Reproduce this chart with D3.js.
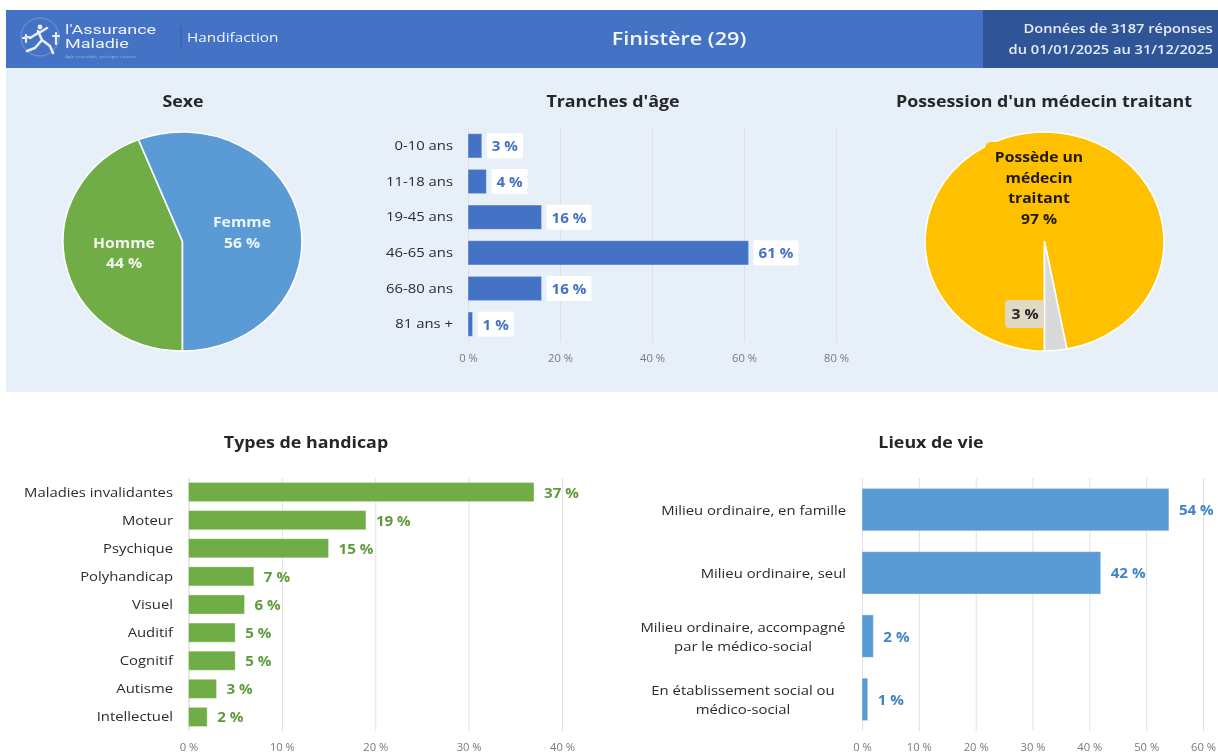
<!DOCTYPE html>
<html><head><meta charset="utf-8">
<style>
html,body{margin:0;padding:0;background:#fff}
svg{display:block;filter:blur(0.45px)}
text{font-family:"Open Sans","Noto Sans",sans-serif}
</style>
<script src="https://cdn.jsdelivr.net/npm/d3@7"></script>
</head><body><svg id="c" width="1218" height="753"></svg>
<script>
const sexeLabels=["Homme","Femme"];
const sexeValues=[44,56];
const medecinLabels=["Possède un médecin traitant",""];
const medecinValues=[97,3];
const ageCats=["0-10 ans","11-18 ans","19-45 ans","46-65 ans","66-80 ans","81 ans +"];
const ageValues=[3,4,16,61,16,1];
const ageTicks=[0,20,40,60,80];
const handicapCats=["Maladies invalidantes","Moteur","Psychique","Polyhandicap","Visuel","Auditif","Cognitif","Autisme","Intellectuel"];
const handicapValues=[37,19,15,7,6,5,5,3,2];
const handicapTicks=[0,10,20,30,40];
const lieuCats=[["Milieu ordinaire, en famille"],["Milieu ordinaire, seul"],["Milieu ordinaire, accompagné","par le médico-social"],["En établissement social ou","médico-social"]];
const lieuValues=[54,42,2,1];
const lieuTicks=[0,10,20,30,40,50,60];

const svg=d3.select("#c");
const pct=v=>v+" %";

// panels
svg.append("rect").attr("x",6).attr("y",68).attr("width",1212).attr("height",324).attr("fill","#e7eff8");
svg.append("rect").attr("x",6).attr("y",10).attr("width",977).attr("height",58).attr("fill","#4472c4");
svg.append("rect").attr("x",983).attr("y",10).attr("width",235).attr("height",58).attr("fill","#2f5597");

// header
const stretch=(t,f)=>{const n=t.node();t.attr("textLength",n.getComputedTextLength()*f).attr("lengthAdjust","spacingAndGlyphs");return t;};
const txt=(x,y,s,o={})=>{
  const t=svg.append("text").attr("x",x).attr("y",y).text(s)
    .attr("font-size",o.size||13).attr("font-weight",o.weight||400).attr("fill",o.fill||"#222")
    .attr("text-anchor",o.anchor||"start");
  if(o.family)t.style("font-family",o.family);
  return stretch(t,o.f||1.12);
};
const logo=svg.append("g").attr("stroke","#e9eef8").attr("fill","none").attr("stroke-linecap","round");
logo.append("circle").attr("cx",40).attr("cy",37).attr("r",19).attr("stroke-opacity",.3).attr("stroke-width",1);
logo.append("path").attr("stroke-width",2.6).attr("d","M38 31 L42 40 M42 40 L35 48 L27 51 M42 40 L50 46 L53 53 M38 33 L30 38 M39 33 L47 28");
logo.append("circle").attr("cx",40).attr("cy",27).attr("r",2.4).attr("fill","#e9eef8").attr("stroke","none");
logo.append("path").attr("stroke-width",2.2).attr("d","M26 35 L26 42 M23 38 L29 37 M56 33 L56 44 M53 36 L59 36");
txt(65,33.5,"l'Assurance",{size:12,fill:"#eef2fa",f:1.5,family:"Roboto"});
txt(65,48,"Maladie",{size:12,fill:"#eef2fa",f:1.5,family:"Roboto"});
txt(65,58,"Agir ensemble, protéger chacun",{size:4,fill:"#9db4de",f:1.2});
svg.append("line").attr("x1",181).attr("x2",181).attr("y1",26).attr("y2",49).attr("stroke","#2f5597").attr("stroke-opacity",.7);
txt(187,42,"Handifaction",{size:13,fill:"#f2f5fb",f:1.18});
txt(679,45,"Finistère (29)",{size:18,weight:600,fill:"#f4f7fc",anchor:"middle",f:1.2});
txt(1213,33,"Données de 3187 réponses",{size:12,weight:600,fill:"#e6ecf7",anchor:"end",f:1.22});
txt(1213,54,"du 01/01/2025 au 31/12/2025",{size:12,weight:600,fill:"#e6ecf7",anchor:"end",f:1.22});

// titles
const title=(x,y,s)=>txt(x,y,s,{size:15.5,weight:700,fill:"#262626",anchor:"middle",f:1.15});
title(183,107,"Sexe");
title(613,107,"Tranches d'âge");
title(1044,107,"Possession d'un médecin traitant");
title(306,448,"Types de handicap");
title(931,448,"Lieux de vie");

// pies
function pie(cx,cy,rx,ry,values,colors){
  const arcs=d3.pie().sort(null).startAngle(Math.PI).endAngle(3*Math.PI)(values);
  const arc=d3.arc().innerRadius(0).outerRadius(rx);
  svg.append("g").attr("transform",`translate(${cx},${cy}) scale(1,${ry/rx})`)
    .selectAll("path").data(arcs).join("path").attr("d",arc)
    .attr("fill",(d,i)=>colors[i]).attr("stroke","#fff").attr("stroke-width",1.6);
}
pie(182.5,241.5,119.5,109.5,sexeValues,["#70ad47","#5b9bd5"]);
pie(1044.5,241.5,119.5,109.5,medecinValues,["#ffc000","#d9d9d9"]);

txt(124,248,sexeLabels[0],{size:14,weight:700,fill:"#f2f7ee",anchor:"middle"});
txt(124,268,pct(sexeValues[0]),{size:14,weight:700,fill:"#f2f7ee",anchor:"middle"});
txt(242,227,sexeLabels[1],{size:14,weight:700,fill:"#eef5fb",anchor:"middle"});
txt(242,248,pct(sexeValues[1]),{size:14,weight:700,fill:"#eef5fb",anchor:"middle"});

svg.append("rect").attr("x",985).attr("y",142).attr("width",108).attr("height",90).attr("rx",6).attr("fill","#ffc000");
["Possède un","médecin","traitant",pct(medecinValues[0])].forEach((s,i)=>
  txt(1039,162+i*20.5,s,{size:14,weight:700,fill:"#1f1a00",anchor:"middle"}));
svg.append("rect").attr("x",1005).attr("y",300).attr("width",39).attr("height",28).attr("rx",4).attr("fill","#e0d9c5");
txt(1025,319,pct(medecinValues[1]),{size:14,weight:700,fill:"#262626",anchor:"middle"});

// bar charts
function bars(o){
  const x=d3.scaleLinear().domain([o.ticks[0],o.ticks[o.ticks.length-1]]).range([o.x0,o.x1]);
  const y=d3.scaleBand().domain(o.cats.map((c,i)=>i)).range([o.top,o.bottom]).paddingInner(o.pad).paddingOuter(o.pad/2);
  const g=svg.append("g");
  const grid=d3.axisBottom(x).tickValues(o.ticks).tickSize(-(o.bottom-o.top)).tickFormat(pct);
  const ga=g.append("g").attr("transform",`translate(0,${o.bottom})`).call(grid);
  ga.select(".domain").remove();
  ga.selectAll("line").attr("stroke","#e0e0e0").attr("stroke-width",1);
  ga.selectAll("text").attr("font-size",10).attr("fill","#7a7a7a").attr("dy",o.tickDy)
    .style("font-family",'"Open Sans","Noto Sans",sans-serif')
    .each(function(){stretch(d3.select(this),1.12);});
  const ya=g.append("g").attr("transform",`translate(${o.x0},0)`).call(d3.axisLeft(y).tickSize(5).tickFormat(""));
  ya.selectAll("line").remove();
  ya.select(".domain").attr("stroke","#e0e0e0").attr("d",`M0.5,${o.top}V${o.bottom}`);
  y.domain().forEach(i=>{
    const lines=o.labels(i), cy=y(i)+y.bandwidth()/2;
    lines.forEach((s,k)=>txt(lines.length>1?o.labelMid:o.labelEnd,cy+o.labelDy+(k-(lines.length-1)/2)*19,s,
      {size:13.5,f:1.1,fill:"#2b2b2b",anchor:lines.length>1?"middle":"end"}));
  });
  g.selectAll("rect.bar").data(o.values).join("rect").attr("class","bar")
    .attr("x",o.x0).attr("y",(d,i)=>y(i)).attr("height",y.bandwidth())
    .attr("width",d=>x(d)-o.x0).attr("fill",o.color).attr("stroke","#fff").attr("stroke-opacity",.35);
  o.values.forEach((v,i)=>{
    const lx=x(v)+o.gap, cy=y(i)+y.bandwidth()/2;
    const t=txt(lx,cy+5.5,pct(v),{size:14,weight:700,fill:o.labelColor,f:1.08});
    if(o.labelBg){
      const w=t.node().getComputedTextLength();
      g.append("rect").attr("x",lx-5).attr("y",cy-12.5).attr("width",w+10).attr("height",25).attr("fill","#fff");
      t.raise();
    }
  });
}
bars({cats:ageCats,values:ageValues,ticks:ageTicks,x0:468,x1:836,top:128,bottom:342,pad:.32,color:"#4472c4",labelColor:"#4472c4",
  labels:i=>[ageCats[i]],labelEnd:453,labelDy:4,gap:10,labelBg:true,tickDy:"1.7em"});
bars({cats:handicapCats,values:handicapValues,ticks:handicapTicks,x0:188.5,x1:562,top:478,bottom:731,pad:.32,color:"#70ad47",labelColor:"#5f9a3c",
  labels:i=>[handicapCats[i]],labelEnd:173,labelDy:4.5,gap:10,tickDy:"1.7em"});
bars({cats:lieuCats,values:lieuValues,ticks:lieuTicks,x0:862,x1:1203,top:478,bottom:731,pad:.33,color:"#5b9bd5",labelColor:"#3f84c4",
  labels:i=>lieuCats[i],labelEnd:846,labelMid:743,labelDy:5,gap:10,tickDy:"1.7em"});
</script></body></html>
